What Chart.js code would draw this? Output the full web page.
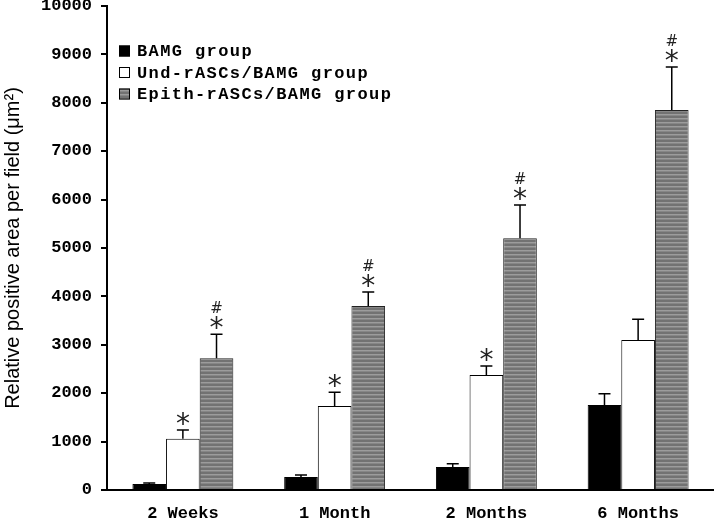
<!DOCTYPE html>
<html><head><meta charset="utf-8">
<script src="https://cdn.jsdelivr.net/npm/chart.js@4"></script>
<style>html,body{margin:0;padding:0;background:#fff}#wrap{width:714px;height:518px}</style>
</head><body><div id="wrap"><canvas id="c" width="714" height="518"></canvas></div>
<script>
const categories = ['2 Weeks', '1 Month', '2 Months', '6 Months'];
const seriesNames = ['BAMG group', 'Und-rASCs/BAMG group', 'Epith-rASCs/BAMG group'];
const bamg = [125, 270, 475, 1755];
const bamgErr = [20, 40, 65, 235];
const und = [1060, 1735, 2375, 3100];
const undErr = [180, 285, 185, 430];
const epith = [2720, 3800, 5200, 7850];
const epithErr = [500, 290, 690, 890];
const bamgMarks = ['', '', '', ''];
const undMarks = ['*', '*', '*', ''];
const epithMarks = ['*#', '*#', '*#', '*#'];
const yTicks = [0, 1000, 2000, 3000, 4000, 5000, 6000, 7000, 8000, 9000, 10000];

// striped gray pattern
const pc = document.createElement('canvas');
pc.width = 4; pc.height = 4;
const px = pc.getContext('2d');
px.fillStyle = '#727272'; px.fillRect(0, 0, 4, 4);
px.fillStyle = '#9c9c9c'; px.fillRect(0, 2, 4, 1);
px.fillStyle = '#868686'; px.fillRect(0, 3, 4, 1);
const stripe = px.createPattern(pc, 'repeat');

const MONO = '"Liberation Mono", "DejaVu Sans Mono", monospace';

const errPlugin = {
  id: 'errbars',
  afterDatasetsDraw(chart) {
    const ctx = chart.ctx, ys = chart.scales.y;
    chart.data.datasets.forEach((ds, di) => {
      const meta = chart.getDatasetMeta(di);
      meta.data.forEach((bar, i) => {
        const top = ys.getPixelForValue(ds.data[i] + ds.errors[i]);
        const x = bar.x;
        ctx.save();
        ctx.strokeStyle = '#000';
        ctx.lineWidth = 1.5;
        ctx.beginPath();
        ctx.moveTo(x, bar.y);
        ctx.lineTo(x, top);
        ctx.moveTo(x - 6, top);
        ctx.lineTo(x + 6, top);
        ctx.stroke();
        const m = ds.marks[i];
        ctx.fillStyle = '#222';
        ctx.textAlign = 'center';
        ctx.textBaseline = 'alphabetic';
        if (m.includes('*')) {
          ctx.font = '28px "DejaVu Sans"';
          ctx.fillText('*', x, top + 3);
        }
        if (m.includes('#')) {
          ctx.font = '15px "DejaVu Sans"';
          ctx.fillText('#', x, top - 21);
        }
        ctx.restore();
      });
    });
  }
};

const legendPlugin = {
  id: 'customLegend',
  afterDraw(chart) {
    const ctx = chart.ctx;
    ctx.save();
    chart.data.datasets.forEach((ds, i) => {
      const cy = 51 + i * 21.5;
      ctx.fillStyle = ds.backgroundColor;
      ctx.fillRect(119, cy - 5.5, 11, 11);
      ctx.strokeStyle = '#000';
      ctx.lineWidth = 1;
      ctx.strokeRect(119.5, cy - 5, 10, 10);
      ctx.fillStyle = '#000';
      ctx.font = 'bold 17px ' + MONO;
      ctx.textAlign = 'left';
      ctx.textBaseline = 'middle';
      ctx.letterSpacing = '1.4px';
      ctx.fillText(ds.label, 137, cy + 1);
    });
    ctx.restore();
  }
};

new Chart(document.getElementById('c'), {
  type: 'bar',
  data: {
    labels: categories,
    datasets: [
      { label: seriesNames[0], data: bamg, errors: bamgErr, marks: bamgMarks,
        backgroundColor: '#000', borderColor: '#000', borderWidth: 1 },
      { label: seriesNames[1], data: und, errors: undErr, marks: undMarks,
        backgroundColor: '#fff', borderColor: '#000', borderWidth: 1 },
      { label: seriesNames[2], data: epith, errors: epithErr, marks: epithMarks,
        backgroundColor: stripe, borderColor: '#222', borderWidth: 1 }
    ]
  },
  options: {
    responsive: false,
    animation: false,
    events: [],
    layout: { autoPadding: true, padding: { top: 0, right: 0, left: 0, bottom: 0 } },
    datasets: { bar: { categoryPercentage: 0.665, barPercentage: 1 } },
    plugins: { legend: { display: false }, tooltip: { enabled: false } },
    scales: {
      x: {
        grid: { display: false, drawTicks: false },
        border: { display: true, color: '#000', width: 2 },
        ticks: { color: '#000', padding: 14, font: { family: MONO, size: 17, weight: 'bold' } },
        afterFit(s) { s.height = 28; s.paddingLeft = 0; s.paddingRight = 0; }
      },
      y: {
        min: 0, max: 10000,
        afterBuildTicks(s) { s.ticks = yTicks.map(v => ({ value: v })); },
        grid: { drawOnChartArea: false, drawTicks: true, tickLength: 6, color: '#000', lineWidth: 2 },
        border: { display: true, color: '#000', width: 2 },
        ticks: { color: '#000', padding: 9, callback: v => String(v),
                 font: { family: MONO, size: 17, weight: 'bold' } },
        title: { display: true, text: 'Relative positive area per field (\u03bcm\u00b2)', color: '#000',
                 padding: { top: 1, bottom: 0 }, font: { family: '"Liberation Sans", Arial, sans-serif', size: 20 } },
        afterFit(s) { s.width = 107; s.paddingTop = 6; s.paddingBottom = 0; }
      }
    }
  },
  plugins: [errPlugin, legendPlugin]
});
</script>
</body></html>
